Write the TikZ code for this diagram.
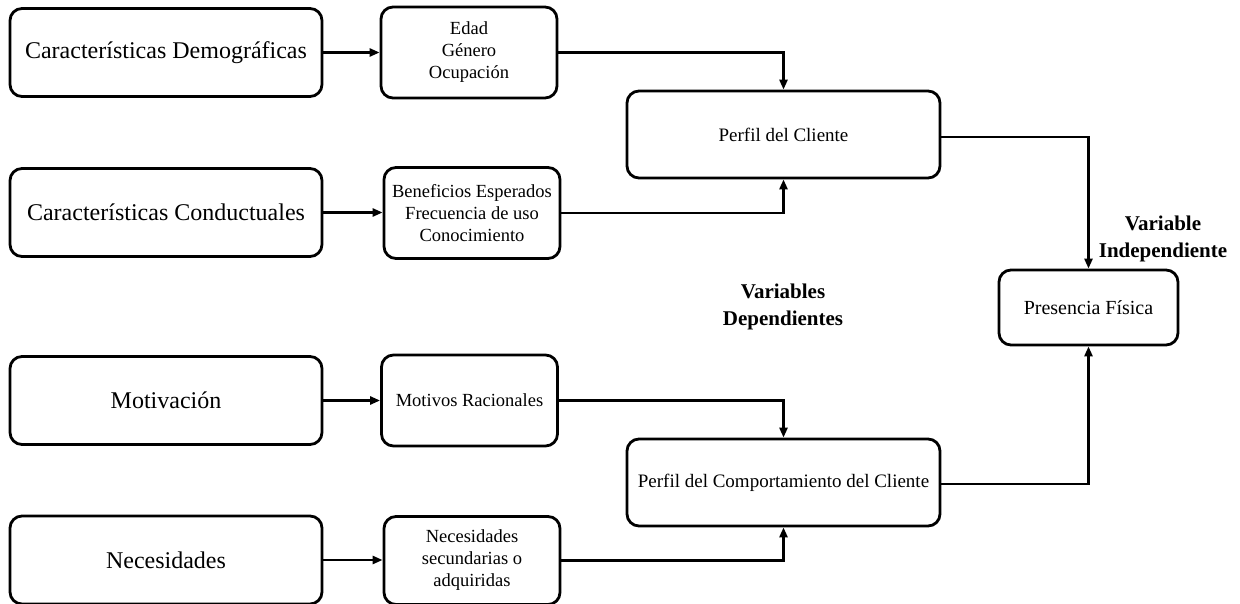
\documentclass[tikz,border=0pt]{standalone}
\usepackage{fontspec}
\setmainfont{Liberation Serif}
\usetikzlibrary{arrows.meta}
\tikzset{
  box/.style={draw, line width=2.8pt, rounded corners=12pt, inner sep=0pt, align=center, fill=white},
  bigbox/.style={box, minimum width=312pt, minimum height=88pt, font=\fontsize{24}{29}\selectfont},
  midbox/.style={box, minimum width=176pt, minimum height=91pt, font=\fontsize{18.5}{22}\selectfont},
  profbox/.style={box, minimum width=313pt, minimum height=87pt, font=\fontsize{19}{23}\selectfont},
  lbl/.style={align=center, font=\bfseries\fontsize{21}{27}\selectfont},
  conn/.style={line width=2.8pt, -{Triangle[length=10pt,width=8pt]}}
}
\begin{document}
\begin{tikzpicture}[x=1pt,y=-1pt]
\useasboundingbox (0,0) rectangle (1240,604);
\node[bigbox] (L1) at (166,52.5) {Características Demográficas};
\node[bigbox] (L2) at (166,212.5) {Características Conductuales};
\node[bigbox] (L3) at (166,400.5) {Motivación};
\node[bigbox] (L4) at (166,560) {Necesidades};
\node[midbox] (M1) at (469,52.5) {Edad\\Género\\Ocupación};
\node[midbox] (M2) at (472,213) {Beneficios Esperados\\Frecuencia de uso\\Conocimiento};
\node[midbox] (M3) at (469.5,400.5) {Motivos Racionales};
\node[midbox, minimum height=88pt] (M4) at (472,560.5) {Necesidades\\secundarias o\\adquiridas};
\node[profbox] (P1) at (783.5,134.5) {Perfil del Cliente};
\node[profbox] (P2) at (783.5,482.5) {Perfil del Comportamiento del Cliente};
\node[box, minimum width=179pt, minimum height=75pt, font=\fontsize{20}{24}\selectfont] (PF) at (1088.5,307.5) {Presencia Física};
\node[lbl] (VI) at (1163,238.5) {Variable\\Independiente};
\node[lbl] (VD) at (783,307) {Variables\\Dependientes};
\draw[conn] (L1.east) -- (M1.west);
\draw[conn] (L2.east) -- (L2.east -| M2.west);
\draw[conn] (L3.east) -- (M3.west);
\draw[conn] (L4.east) -- (L4.east -| M4.west);
\draw[conn] (M1.east) -| (P1.north);
\draw[conn] (M2.east) -| (P1.south);
\draw[conn] (M3.east) -| (P2.north);
\draw[conn] (M4.east) -| (P2.south);
\draw[conn] ([yshift=-2.5pt]P1.east) -| (PF.north);
\draw[conn] ([yshift=-1.5pt]P2.east) -| (PF.south);
\end{tikzpicture}
\end{document}
